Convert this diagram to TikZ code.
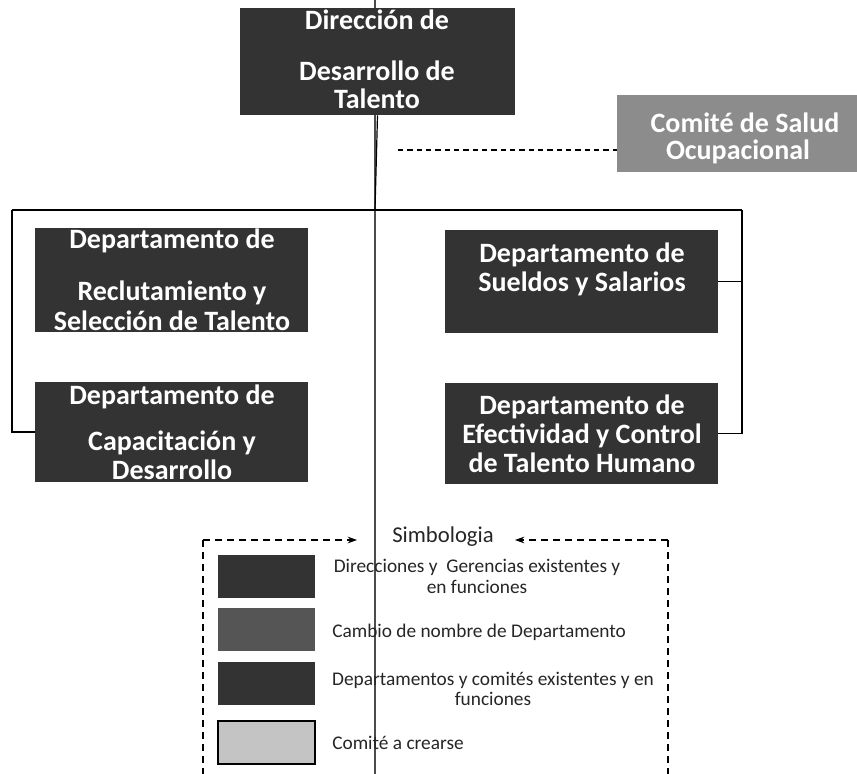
\documentclass[tikz,border=0pt]{standalone}
\usepackage{fontspec}
\setmainfont{Carlito}
\usetikzlibrary{arrows.meta}
\definecolor{boxdark}{HTML}{333333}
\definecolor{boxmid}{HTML}{555555}
\definecolor{boxcom}{HTML}{8C8C8C}
\definecolor{boxlight}{HTML}{C4C4C4}
\begin{document}
\begin{tikzpicture}[x=0.75pt,y=-0.75pt,
  orgbox/.style={draw=none,fill=boxdark,inner sep=0},
  comibox/.style={draw=none,fill=boxcom,inner sep=0},
  boxtext/.style={text=white,font=\fontsize{21}{24}\selectfont\bfseries,inner sep=0},
  legtext/.style={text=black!85,font=\fontsize{14.5}{16}\selectfont,inner sep=0},
  swatch/.style={draw=none,inner sep=0,minimum width={97*0.75pt},minimum height={43*0.75pt}},
  conn/.style={draw=black,line width=0.9pt},
  dashconn/.style={draw=black,line width=0.9pt,dash pattern=on 4pt off 3pt},
  legdash/.style={draw=black,line width=0.8pt,dash pattern=on 5pt off 4pt}]
\useasboundingbox (0,0) rectangle (857,774);
\fill[white] (0,0) rectangle (857,774);

% vertical guide line through the whole sheet
\coordinate (vtop) at (375,0);
\coordinate (vbot) at (375,774);
\coordinate (barmid) at (375,210);
\draw[conn,draw=black!70] (vtop) -- (vbot);

% boxes
\node[orgbox,minimum width={275*0.75pt},minimum height={107*0.75pt}] (dir) at (377.5,61.5) {};
\node[comibox,minimum width={240*0.75pt},minimum height={77*0.75pt}] (com) at (737,133.5) {};
\node[orgbox,minimum width={273*0.75pt},minimum height={104*0.75pt}] (rec) at (171.5,280) {};
\node[orgbox,minimum width={273*0.75pt},minimum height={100*0.75pt}] (cap) at (171.5,432) {};
\node[orgbox,minimum width={273*0.75pt},minimum height={103*0.75pt}] (sue) at (581.5,281.5) {};
\node[orgbox,minimum width={273*0.75pt},minimum height={101*0.75pt}] (efe) at (581.5,433.5) {};

% texts
\node[boxtext] (dirt1) at (377,20) {Dirección de};
\node[boxtext] (dirt2) at (377,71) {Desarrollo de};
\node[boxtext] (dirt3) at (377,99) {Talento};
\node[boxtext] (comt1) at (745,123) {Comité de Salud};
\node[boxtext] (comt2) at (738,152) {Ocupacional};
\node[boxtext] (rect1) at (172,241) {Departamento de};
\node[boxtext] (rect2) at (172,293) {Reclutamiento y};
\node[boxtext] (rect3) at (172,321) {Selección de Talento};
\node[boxtext] (capt1) at (172,397) {Departamento de};
\node[boxtext] (capt2) at (172,443) {Capacitación y};
\node[boxtext] (capt3) at (172,470) {Desarrollo};
\node[boxtext] (suet1) at (582,255) {Departamento de};
\node[boxtext] (suet2) at (582,284) {Sueldos y Salarios};
\node[boxtext] (efet1) at (582,407) {Departamento de};
\node[boxtext] (efet2) at (582,436) {Efectividad y Control};
\node[boxtext] (efet3) at (582,463) {de Talento Humano};

% connectors
\coordinate (barL) at (12,210);
\coordinate (barR) at (742,210);
\coordinate (dashstart) at (398,150);
\draw[conn] (dir.south) -- (barmid);
\draw[conn] (barL) -- (barR);
\draw[conn] (barL) |- (cap.west);
\draw[conn] (barR) |- (efe.east);
\draw[conn] (barR |- sue.east) -- (sue.east);
\draw[dashconn] (dashstart) -- (com.west |- dashstart);

% legend
\coordinate (lgTL) at (203,540);
\coordinate (lgTR) at (668,540);
\coordinate (lgBL) at (203,774);
\coordinate (lgBR) at (668,774);
\node[font=\fontsize{17}{19}\selectfont,text=black!85,inner sep=0] (simb) at (443,537) {Simbologia};
\coordinate (arrL) at (357,540);
\coordinate (arrR) at (515,540);
\draw[legdash,-{Stealth[length=7pt,width=5pt]}] (lgTL) -- (arrL);
\draw[legdash,-{Stealth[length=7pt,width=5pt]}] (lgTR) -- (arrR);
\draw[legdash] (lgTL) -- (lgBL);
\draw[legdash] (lgTR) -- (lgBR);

\node[swatch,fill=boxdark] (sw1) at (266.5,576.5) {};
\node[swatch,fill=boxmid] (sw2) at (266.5,629.5) {};
\node[swatch,fill=boxdark] (sw3) at (266.5,683) {};
\node[swatch,fill=boxlight,draw=black,line width=0.8pt] (sw4) at (266.5,742.5) {};

\node[legtext] (lt1a) at (477,567) {Direcciones y\ \ Gerencias existentes y};
\node[legtext] (lt1b) at (477,587) {en funciones};
\node[legtext,anchor=west] (lt2) at (332,632) {Cambio de nombre de Departamento};
\node[legtext] (lt3a) at (493,680) {Departamentos y comités existentes y en};
\node[legtext] (lt3b) at (493,699) {funciones};
\node[legtext,anchor=west] (lt4) at (332,743) {Comité a crearse};
\end{tikzpicture}
\end{document}
